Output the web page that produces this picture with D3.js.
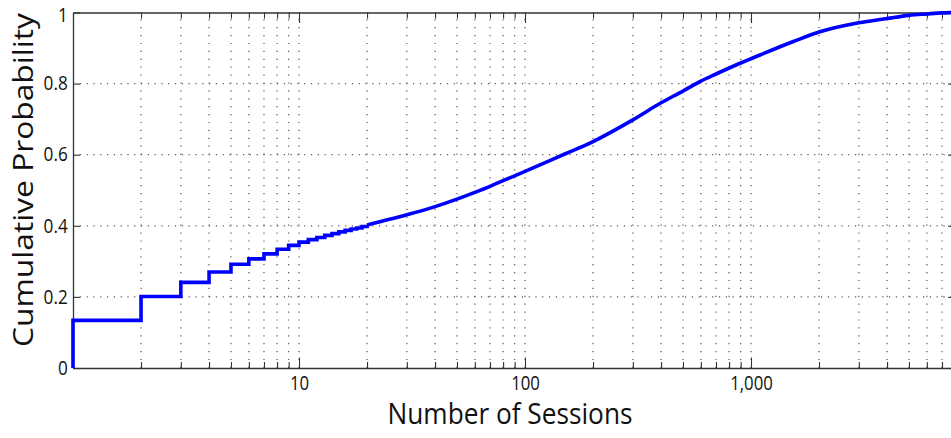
<!DOCTYPE html>
<html>
<head>
<meta charset="utf-8">
<script src="https://cdn.jsdelivr.net/npm/d3@7"></script>
<style>
  body { margin: 0; background: #fff; }
  text { font-family: "Open Sans", sans-serif; fill: #111; }
</style>
</head>
<body>
<div id="root"></div>
<script>
// step part of the CDF (integer session counts)
const stepSessions = [1, 1, 2, 3, 4, 5, 6, 7, 8, 9, 10, 11, 12, 13, 14, 15, 16, 17, 18, 19, 20];
const stepCdf = [0, 0.134, 0.201, 0.241, 0.270, 0.292, 0.307, 0.321, 0.334, 0.345, 0.354,
  0.361, 0.367, 0.373, 0.378, 0.383, 0.387, 0.391, 0.394, 0.398, 0.402];

// smooth tail of the CDF
const tailSessions = [20, 23, 30, 40, 50, 60, 70, 80, 100, 150, 200, 300, 400, 500, 600, 700,
  900, 1000, 1550, 2000, 3000, 4000, 5000, 6000, 7000, 8000];
const tailCdf = [0.402, 0.412, 0.431, 0.454, 0.475, 0.494, 0.511, 0.527, 0.553, 0.602, 0.637,
  0.698, 0.746, 0.779, 0.807, 0.827, 0.858, 0.870, 0.919, 0.945, 0.971, 0.983, 0.992, 0.996,
  0.999, 1.0];

const majorTicks = [1, 10, 100, 1000];
const yTicks = [0, 0.2, 0.4, 0.6, 0.8, 1];

const width = 951, height = 438;
const plotLeft = 73, plotTop = 12.5, plotBottom = 368;
const decade = 226;

const svg = d3.select("#root").append("svg")
  .attr("width", width)
  .attr("height", height);

const xScale = d3.scaleLog()
  .domain([1, 8000])
  .range([plotLeft, plotLeft + decade * Math.log10(8000)]);
const plotRight = xScale.range()[1];

const yScale = d3.scaleLinear()
  .domain([0, 1])
  .range([plotBottom, plotTop]);

// minor tick positions 2..9 in each decade
const minorTicks = [];
majorTicks.forEach(m => {
  for (let k = 2; k <= 9; k++) {
    if (m * k <= 8000) minorTicks.push(m * k);
  }
});

// dotted grid
const grid = svg.append("g").attr("class", "grid");
grid.selectAll(".vgrid")
  .data(minorTicks.concat(majorTicks.slice(1)))
  .enter().append("line")
  .attr("x1", d => xScale(d)).attr("x2", d => xScale(d))
  .attr("y1", plotBottom).attr("y2", plotTop)
  .attr("stroke", "#555")
  .attr("stroke-width", 1.2)
  .attr("stroke-dasharray", "1.2,6.7");
grid.selectAll(".hgrid")
  .data(yTicks.slice(1, -1))
  .enter().append("line")
  .attr("x1", plotLeft).attr("x2", plotRight)
  .attr("y1", d => yScale(d)).attr("y2", d => yScale(d))
  .attr("stroke", "#555")
  .attr("stroke-width", 1.2)
  .attr("stroke-dasharray", "1.2,5.6");

const axisStyle = g => {
  g.selectAll(".domain").attr("stroke", "#333").attr("stroke-width", 1.3);
  g.selectAll(".tick line").attr("stroke", "#333").attr("stroke-width", 1.1);
  g.selectAll(".tick text")
    .style("font-family", "'Open Sans', sans-serif")
    .style("font-size", "19.5px")
    .attr("fill", "#111");
};

// bottom axis: minor then major
svg.append("g")
  .attr("transform", `translate(0, ${plotBottom})`)
  .call(d3.axisBottom(xScale).tickValues(minorTicks).tickSizeInner(-6).tickSizeOuter(0).tickFormat(""))
  .call(axisStyle);
svg.append("g")
  .attr("transform", `translate(0, ${plotBottom})`)
  .call(d3.axisBottom(xScale).tickValues(majorTicks.slice(1)).tickSizeInner(-10.5).tickSizeOuter(0)
    .tickPadding(8).tickFormat(d3.format(",")))
  .call(axisStyle)
  .call(g => g.select(".domain").remove())
  .call(g => g.selectAll(".tick text").attr("transform", "scale(0.86,1)"));

// top axis
svg.append("g")
  .attr("transform", `translate(0, ${plotTop})`)
  .call(d3.axisTop(xScale).tickValues(minorTicks).tickSizeInner(-6).tickSizeOuter(0).tickFormat(""))
  .call(axisStyle);
svg.append("g")
  .attr("transform", `translate(0, ${plotTop})`)
  .call(d3.axisTop(xScale).tickValues(majorTicks.slice(1)).tickSizeInner(-10.5).tickSizeOuter(0).tickFormat(""))
  .call(axisStyle)
  .call(g => g.select(".domain").remove());

// left and right axes
svg.append("g")
  .attr("transform", `translate(${plotLeft}, 0)`)
  .call(d3.axisLeft(yScale).tickValues(yTicks).tickSizeInner(-7).tickSizeOuter(0).tickPadding(6)
    .tickFormat(d => (d === 0 || d === 1) ? String(d) : d.toFixed(1)))
  .call(axisStyle)
  .call(g => g.selectAll(".tick text").attr("transform", "scale(0.88,1)"))
  .call(g => g.selectAll(".tick text").filter(d => d === 1).attr("dy", "0.45em"));
svg.append("g")
  .attr("transform", `translate(${plotRight}, 0)`)
  .call(d3.axisRight(yScale).tickValues(yTicks).tickSizeInner(-7).tickSizeOuter(0).tickFormat(""))
  .call(axisStyle);

// CDF curve
const stepLine = d3.line()
  .x((d, i) => xScale(stepSessions[i]))
  .y((d, i) => yScale(stepCdf[i]))
  .curve(d3.curveStepAfter);
const tailLine = d3.line()
  .x((d, i) => xScale(tailSessions[i]))
  .y((d, i) => yScale(tailCdf[i]))
  .curve(d3.curveMonotoneX);

svg.append("path")
  .datum(stepSessions)
  .attr("class", "line")
  .attr("d", stepLine)
  .attr("fill", "none")
  .attr("stroke", "#0000ff")
  .attr("stroke-width", 3.6)
  .attr("stroke-linejoin", "miter");
svg.append("path")
  .datum(tailSessions)
  .attr("class", "line")
  .attr("d", tailLine)
  .attr("fill", "none")
  .attr("stroke", "#0000ff")
  .attr("stroke-width", 3.6);

// axis titles
svg.append("text")
  .attr("x", 510)
  .attr("y", 424)
  .attr("text-anchor", "middle")
  .attr("textLength", 245)
  .attr("lengthAdjust", "spacingAndGlyphs")
  .style("font-size", "28.5px")
  .text("Number of Sessions");

svg.append("text")
  .attr("transform", "translate(33, 180) rotate(-90)")
  .attr("text-anchor", "middle")
  .attr("textLength", 334)
  .attr("lengthAdjust", "spacingAndGlyphs")
  .style("font-size", "28px")
  .text("Cumulative Probability");
</script>
</body>
</html>
